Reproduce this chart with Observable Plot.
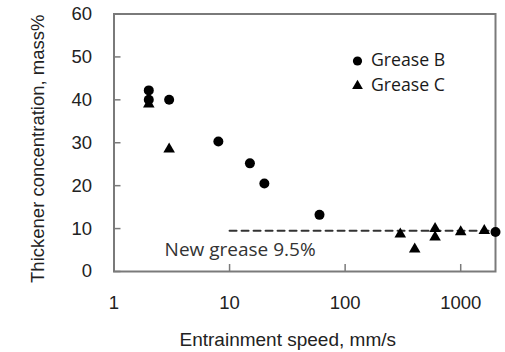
<!DOCTYPE html>
<html>
<head>
<meta charset="utf-8">
<script src="https://cdn.jsdelivr.net/npm/d3@7"></script>
<script src="https://cdn.jsdelivr.net/npm/@observablehq/plot@0.6"></script>
<style>
  html, body { margin: 0; padding: 0; background: #fff; }
  #chart svg { display: block; }
</style>
</head>
<body>
<div id="chart"></div>
<script>
// ---- data ----
const greaseBSpeed = [2, 2, 3, 8, 15, 20, 60, 2000];
const greaseBConc  = [42.2, 40.0, 40.0, 30.3, 25.2, 20.5, 13.2, 9.2];
const greaseCSpeed = [2, 3, 300, 400, 600, 600, 1000, 1600];
const greaseCConc  = [39.0, 28.5, 8.7, 5.2, 10.0, 8.0, 9.2, 9.5];
const seriesNames  = ["Grease B", "Grease C"];
const seriesSymbols = ["circle", "triangle"];
const xTicks = [1, 10, 100, 1000];
const yTicks = [0, 10, 20, 30, 40, 50, 60];
const newGreaseLevel = 9.5;
const newGreaseSpan = [10, 2000];
const newGreaseLabel = "New grease 9.5%";
const xTitle = "Entrainment speed, mm/s";
const yTitle = "Thickener concentration, mass%";

const pointsB = greaseBSpeed.map((s, i) => ({speed: s, conc: greaseBConc[i]}));
const pointsC = greaseCSpeed.map((s, i) => ({speed: s, conc: greaseCConc[i]}));
const refLine = newGreaseSpan.map(s => ({speed: s, conc: newGreaseLevel}));

const axisFont = "Liberation Sans, Arial, sans-serif";
const noteFont = "Open Sans, sans-serif";

const legendMarks = seriesNames.flatMap((name, i) => [
  Plot.dot([name], {frameAnchor: "top-left", dx: 243.5, dy: 47 + i * 25,
    symbol: seriesSymbols[i], r: i === 0 ? 4.6 : 4.0, fill: "#000", stroke: "none"}),
  Plot.text([name], {frameAnchor: "top-left", dx: 257, dy: 46.5 + i * 25,
    text: d => d, textAnchor: "start", lineAnchor: "middle", fontSize: 17.7, fill: "#1a1a1a",
    fontFamily: noteFont})
]);

const chart = Plot.plot({
  width: 505,
  height: 352,
  marginLeft: 113.5,
  marginRight: 10,
  marginTop: 13.5,
  marginBottom: 81,
  style: {background: "#fff", color: "#222"},
  x: {type: "log", domain: [1, 2000]},
  y: {domain: [0, 60]},
  marks: [
    Plot.frame({stroke: "#7a7a7a", strokeWidth: 2}),
    Plot.axisX({ticks: xTicks, tickFormat: d => String(d), tickSize: -7,
      tickPadding: 31, stroke: "#7a7a7a", strokeWidth: 1.5,
      fontSize: 18.5, fontFamily: axisFont, fill: "#222", label: null}),
    Plot.axisY({ticks: yTicks, tickSize: -7, tickPadding: 29,
      stroke: "#7a7a7a", strokeWidth: 1.5,
      fontSize: 18.5, fontFamily: axisFont, fill: "#222", label: null}),
    Plot.text([xTitle], {frameAnchor: "bottom", dx: -17, dy: 74, text: d => d,
      fontSize: 19, fontFamily: axisFont, fill: "#222"}),
    Plot.text([yTitle], {frameAnchor: "left", dx: -76, dy: 6, rotate: -90, text: d => d,
      textAnchor: "middle", fontSize: 18.5, fontFamily: axisFont, fill: "#222"}),
    Plot.line(refLine, {x: "speed", y: "conc", stroke: "#333", strokeWidth: 2,
      strokeDasharray: "7,5"}),
    Plot.text([newGreaseLabel], {x: () => newGreaseSpan[0], y: () => newGreaseLevel,
      text: d => d, textAnchor: "start", dx: -65, dy: 19, fontSize: 19,
      fontFamily: noteFont, fill: "#333"}),
    Plot.dot(pointsB, {x: "speed", y: "conc", symbol: "circle", r: 5, fill: "#000", stroke: "none"}),
    Plot.dot(pointsC, {x: "speed", y: "conc", symbol: "triangle", r: 4.3, fill: "#000", stroke: "none"}),
    ...legendMarks
  ]
});
document.getElementById("chart").append(chart);
</script>
</body>
</html>
